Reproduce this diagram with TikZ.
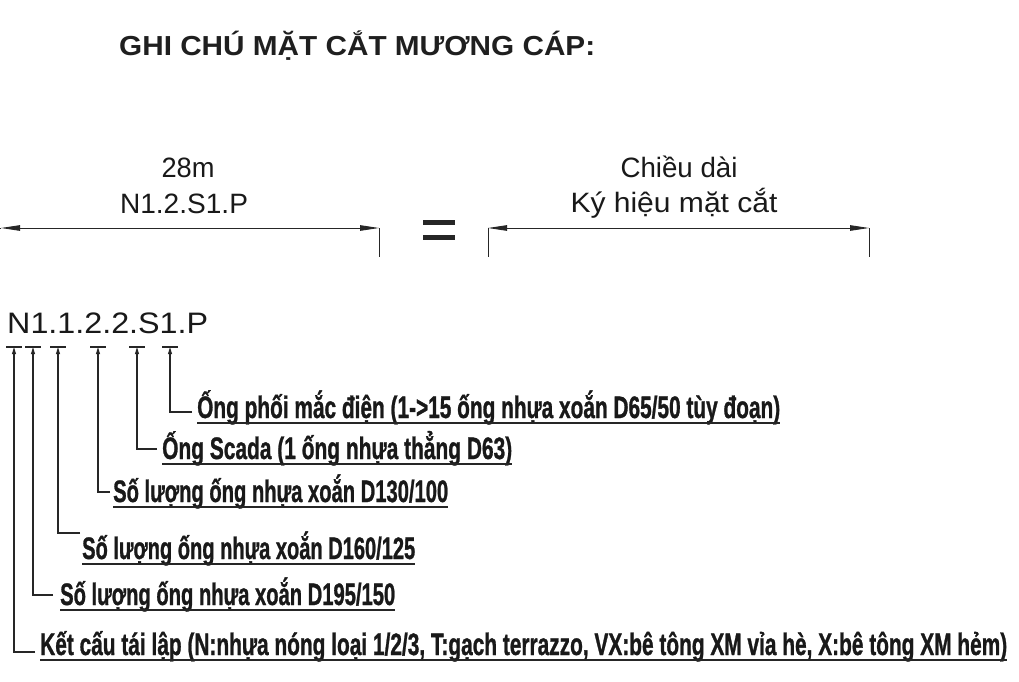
\documentclass[tikz,border=0pt]{standalone}
\usepackage{fontspec}
\usepackage{graphicx}
\setmainfont{Liberation Sans}
\newfontfamily\rowfont{Liberation Sans Bold}[FakeBold=1.2]
\usetikzlibrary{arrows.meta}
\tikzset{
  dimline/.style={line width=0.9pt, draw=black!85, arrows={Triangle[length=19pt,width=5.5pt]-Triangle[length=19pt,width=5.5pt]}},
  tickline/.style={line width=0.9pt, draw=black!85},
  treeline/.style={line width=1.3pt, draw=black!85},
  treearrow/.style={treeline, arrows={-Triangle[length=7pt,width=3.8pt]}},
  uline/.style={line width=1.5pt, draw=black!85},
  lbl/.style={anchor=base west, inner sep=0pt, text=black!90, font=\rowfont\fontsize{31}{31}\selectfont},
  dimlbl/.style={anchor=base, inner sep=0pt, text=black!90, font=\fontsize{28}{28}\selectfont},
  codelbl/.style={anchor=base west, inner sep=0pt, text=black!90, font=\fontsize{29.6}{30}\selectfont},
  titlelbl/.style={anchor=base west, inner sep=0pt, text=black!88, font=\bfseries\fontsize{27.5}{28}\selectfont},
  eqbar/.style={fill=black!85, draw=none},
}
\begin{document}
\begin{tikzpicture}[x=1pt,y=-1pt]
\useasboundingbox (0,0) rectangle (1019,682);
\fill[white] (0,0) rectangle (1019,682);

% title
\node[titlelbl] (title) at (119,56) {\resizebox{476pt}{\height}{GHI CHÚ MẶT CẮT MƯƠNG CÁP:}};

% left dimension
\node[dimlbl] (len1) at (188,177) {\resizebox{53pt}{\height}{28m}};
\node[dimlbl] (sym1) at (184,213) {\resizebox{128pt}{\height}{N1.2.S1.P}};
\coordinate (dlA) at (1,228);
\coordinate (dlB) at (379,228);
\coordinate (dlBt) at (379,257);
\coordinate (dl0) at (0,228);
\draw[tickline] (dl0) -- (dlA);
\draw[dimline] (dlA) -- (dlB);
\draw[tickline] (dlB) -- (dlBt);

% equals sign
\fill[eqbar] (423,220) rectangle (455,225);
\fill[eqbar] (423,235) rectangle (455,240);

% right dimension
\node[dimlbl] (len2) at (679,177) {\resizebox{117pt}{\height}{Chiều dài}};
\node[dimlbl] (sym2) at (674,212) {\resizebox{207pt}{\height}{Ký hiệu mặt cắt}};
\coordinate (drA) at (488,228);
\coordinate (drAt) at (488,257);
\coordinate (drB) at (869,228);
\coordinate (drBt) at (869,257);
\draw[dimline] (drA) -- (drB);
\draw[tickline] (drA) -- (drAt);
\draw[tickline] (drB) -- (drBt);

% code
\node[codelbl] (code) at (7,333) {\resizebox{201pt}{\height}{N1.1.2.2.S1.P}};

% markers
\foreach \i/\x in {1/170,2/137,3/98,4/58,5/33,6/14}{
  \coordinate (m\i) at (\x,347);
  \draw[treeline] ([xshift=-8pt]m\i) -- ([xshift=8pt]m\i);
}

% rows
\node[lbl] (r1) at (197,418) {\resizebox{583pt}{\height}{Ống phối mắc điện (1->15 ống nhựa xoắn D65/50 tùy đoạn)}};
\node[lbl] (r2) at (162,459) {\resizebox{350pt}{\height}{Ống Scada (1 ống nhựa thẳng D63)}};
\node[lbl] (r3) at (113,502) {\resizebox{335pt}{\height}{Số lượng ống nhựa xoắn D130/100}};
\node[lbl] (r4) at (82,559) {\resizebox{333pt}{\height}{Số lượng ống nhựa xoắn D160/125}};
\node[lbl] (r5) at (60,605) {\resizebox{335pt}{\height}{Số lượng ống nhựa xoắn D195/150}};
\node[lbl] (r6) at (40,655) {\resizebox{967pt}{\height}{Kết cấu tái lập (N:nhựa nóng loại 1/2/3, T:gạch terrazzo, VX:bê tông XM vỉa hè, X:bê tông XM hẻm)}};

\foreach \i in {1,...,6}{
  \draw[uline] ([yshift=-5pt]r\i.base west) -- ([yshift=-5pt]r\i.base east);
}

% connectors
\coordinate (c1) at (170,412); \coordinate (e1) at (192,412);
\coordinate (c2) at (137,449); \coordinate (e2) at (157,449);
\coordinate (c3) at (98,492);  \coordinate (e3) at (110,492);
\coordinate (c4) at (58,533);  \coordinate (e4) at (80,533);
\coordinate (c5) at (33,595);  \coordinate (e5) at (53,595);
\coordinate (c6) at (14,652);  \coordinate (e6) at (35,652);
\foreach \i in {1,...,6}{
  \draw[treearrow] (e\i) -- (c\i) -- (m\i);
}
\end{tikzpicture}
\end{document}
